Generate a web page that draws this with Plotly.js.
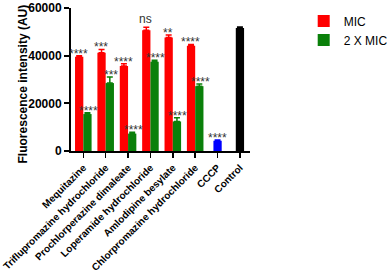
<!DOCTYPE html>
<html><head><meta charset="utf-8">
<script src="https://cdn.plot.ly/plotly-3.0.1.min.js"></script>
<style>html,body{margin:0;padding:0;background:#fff;overflow:hidden;}#chart{width:400px;height:279px;}</style>
</head><body><div id="chart"></div>
<script>
const drugs = ["Mequitazine","Triflupromazine hydrochloride","Prochlorperazine dimaleate","Loperamide hydrochloride","Amlodipine besylate","Chlorpromazine hydrochloride"];
const micValues = [39500, 41200, 35700, 50700, 47600, 44200];
const micErrors = [500, 1400, 900, 1200, 1100, 500];
const mic2Values = [15500, 28500, 7300, 37500, 12400, 27200];
const mic2Errors = [600, 2500, 600, 600, 1500, 900];
const micSig = ["****","***","****","ns","**","****"];
const mic2Sig = ["****","***","****","****","****","****"];
const cccpLabel = ["CCCP"]; const cccpValue = [4300]; const cccpError = [300]; const cccpSig = ["****"];
const controlLabel = ["Control"]; const controlValue = [51600]; const controlError = [400];
const yTicks = [0, 20000, 40000, 60000];
const yTitle = "Fluorescence intensity (AU)";

const W = 0.37;
const font = "Arial, 'Liberation Sans', sans-serif";
function tr(name, x, y, err, color, offset, showlegend){
  return {type:'bar', name, x, y, width:W, offset, marker:{color, line:{width:0}}, showlegend,
    error_y:{type:'data', symmetric:false, array:err, arrayminus:err.map(()=>0), color, thickness:1.5, width:3}};
}
const data = [
  tr('MIC', drugs, micValues, micErrors, '#ff0000', -W, true),
  tr('2 X MIC', drugs, mic2Values, mic2Errors, '#0a800a', 0, true),
  tr('CCCP', cccpLabel, cccpValue, cccpError, '#0000ff', -W/2, false),
  tr('Control', controlLabel, controlValue, controlError, '#000000', -W/2, false)
];
const annotations = [];
function addSig(xs, ys, es, sig, shift){
  xs.forEach((x,i)=>{
    annotations.push({x, y: ys[i]+es[i], xref:'x', yref:'y', text: sig[i], showarrow:false,
      xshift: shift, yshift: sig[i]==='ns' ? -1 : -7, yanchor:'bottom', xanchor:'center',
      font:{family:font, size:12, color:'#333'}});
  });
}
addSig(drugs, micValues, micErrors, micSig, -5);
addSig(drugs, mic2Values, mic2Errors, mic2Sig, 5);
addSig(cccpLabel, cccpValue, cccpError, cccpSig, 0);
annotations.push({xref:'paper', yref:'paper', x:-0.27, y:0.47, xanchor:'center', yanchor:'middle',
  text:yTitle, textangle:-90, showarrow:false, font:{family:font, size:12, weight:'bold', color:'#000'}});

const layout = {
  width:400, height:279, margin:{l:71, r:113, t:7, b:128},
  paper_bgcolor:'#fff', plot_bgcolor:'#fff', barmode:'overlay',
  font:{family:font, color:'#000'},
  xaxis:{type:'category', tickangle:-45, showline:true, linecolor:'#000', linewidth:2,
    ticks:'outside', ticklen:5, tickwidth:1.5, tickcolor:'#000', showgrid:false, zeroline:false,
    tickfont:{family:font, size:10, weight:'bold', color:'#000'}, range:[-0.55,7.45]},
  yaxis:{range:[0,60000], tickvals:yTicks, tickformat:'d', showline:true, linecolor:'#000', linewidth:2,
    ticks:'outside', ticklen:5, tickwidth:2, tickcolor:'#000', showgrid:false, zeroline:false,
    tickfont:{family:font, size:12, weight:'bold', color:'#000'}},
  legend:{x:1.3, y:1.01, xanchor:'left', yanchor:'top', font:{family:font, size:12, color:'#000'}, bgcolor:'rgba(0,0,0,0)'},
  annotations
};
Plotly.newPlot('chart', data, layout, {displayModeBar:false, staticPlot:true});
</script></body></html>
